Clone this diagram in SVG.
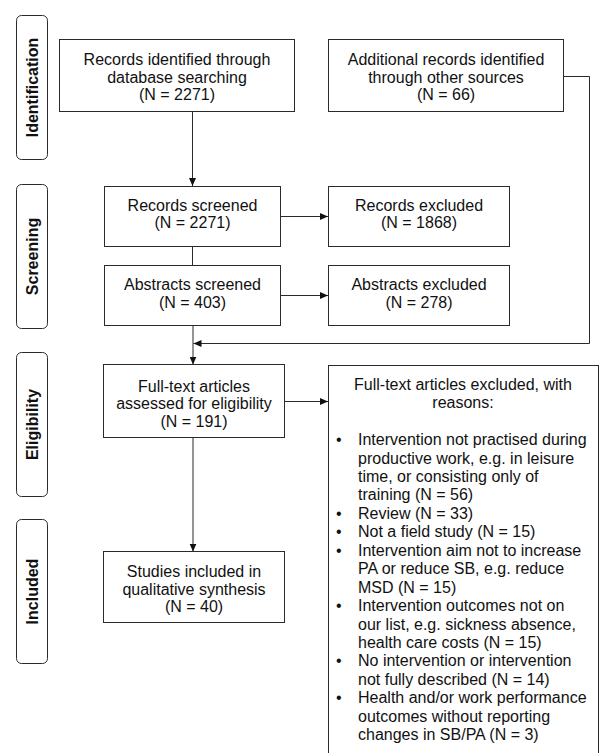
<svg xmlns="http://www.w3.org/2000/svg" width="599" height="753" viewBox="0 0 599 753">
<defs>
<marker id="arr" markerUnits="userSpaceOnUse" markerWidth="9" markerHeight="8" refX="8" refY="4" orient="auto">
<path d="M0,0.5 L8,4 L0,7.5 Z" fill="#111"/>
</marker>
<style>
.box{fill:#fff;stroke:#2b2b2b;stroke-width:1}
.lab{fill:#fff;stroke:#2b2b2b;stroke-width:1}
.t{font-family:"Liberation Sans",Arial,sans-serif;font-size:16px;fill:#111;text-anchor:middle}
.l{font-family:"Liberation Sans",Arial,sans-serif;font-size:16px;fill:#111}
.b{font-family:"Liberation Sans",Arial,sans-serif;font-size:16px;font-weight:bold;fill:#111;text-anchor:middle}
.c{fill:none;stroke:#2b2b2b;stroke-width:1}
</style>
</defs>
<rect width="599" height="753" fill="#fff"/>
<g id="phase-identification"><rect class="lab" x="16.5" y="15.5" width="31" height="144" rx="5"/><text class="b" transform="translate(37.5,87.5) rotate(-90)">Identification</text></g>
<g id="phase-screening"><rect class="lab" x="16.5" y="184.5" width="31" height="144" rx="5"/><text class="b" transform="translate(37.5,256.5) rotate(-90)">Screening</text></g>
<g id="phase-eligibility"><rect class="lab" x="16.5" y="352.5" width="31" height="144" rx="5"/><text class="b" transform="translate(37.5,424.5) rotate(-90)">Eligibility</text></g>
<g id="phase-included"><rect class="lab" x="16.5" y="519.5" width="31" height="144" rx="5"/><text class="b" transform="translate(37.5,591.5) rotate(-90)">Included</text></g>

<g id="connectors">
<line class="c" x1="192.5" y1="111.5" x2="192.5" y2="186" marker-end="url(#arr)"/>
<line class="c" x1="192.5" y1="246.5" x2="192.5" y2="265.5"/>
<line class="c" x1="280.5" y1="216.5" x2="328" y2="216.5" marker-end="url(#arr)"/>
<line class="c" x1="280.5" y1="295.5" x2="328" y2="295.5" marker-end="url(#arr)"/>
<line class="c" x1="193" y1="325.5" x2="193" y2="364.5" marker-end="url(#arr)"/>
<polyline class="c" points="563.5,76.5 589.5,76.5 589.5,343.5 193.5,343.5" marker-end="url(#arr)"/>
<line class="c" x1="284.5" y1="401.5" x2="328" y2="401.5" marker-end="url(#arr)"/>
<line class="c" x1="193" y1="437.5" x2="193" y2="551.5" marker-end="url(#arr)"/>
</g>

<g id="db-records"><rect class="box" x="59.5" y="39.5" width="235" height="72"/>
<text class="t" x="177" y="65">Records identified through</text>
<text class="t" x="177" y="82.5">database searching</text>
<text class="t" x="177" y="100">(N = 2271)</text></g>

<g id="other-records"><rect class="box" x="328.5" y="39.5" width="235" height="72"/>
<text class="t" x="446" y="65">Additional records identified</text>
<text class="t" x="446" y="82.5">through other sources</text>
<text class="t" x="446" y="100">(N = 66)</text></g>

<g id="records-screened"><rect class="box" x="104.5" y="186.5" width="176" height="60"/>
<text class="t" x="192.5" y="210.5">Records screened</text>
<text class="t" x="192.5" y="228">(N = 2271)</text></g>

<g id="records-excluded"><rect class="box" x="328.5" y="186.5" width="181" height="60"/>
<text class="t" x="419" y="210.5">Records excluded</text>
<text class="t" x="419" y="228">(N = 1868)</text></g>

<g id="abstracts-screened"><rect class="box" x="104.5" y="265.5" width="176" height="60"/>
<text class="t" x="192.5" y="290">Abstracts screened</text>
<text class="t" x="192.5" y="307.5">(N = 403)</text></g>

<g id="abstracts-excluded"><rect class="box" x="328.5" y="265.5" width="181" height="60"/>
<text class="t" x="419" y="290">Abstracts excluded</text>
<text class="t" x="419" y="307.5">(N = 278)</text></g>

<g id="fulltext-assessed"><rect class="box" x="103.5" y="364.5" width="181" height="73"/>
<text class="t" x="194" y="391.5">Full-text articles</text>
<text class="t" x="194" y="409">assessed for eligibility</text>
<text class="t" x="194" y="426.5">(N = 191)</text></g>

<g id="studies-included"><rect class="box" x="103.5" y="551.5" width="181" height="71"/>
<text class="t" x="194" y="577">Studies included in</text>
<text class="t" x="194" y="594.5">qualitative synthesis</text>
<text class="t" x="194" y="612">(N = 40)</text></g>

<g id="fulltext-excluded"><rect class="box" x="328.5" y="365.5" width="270" height="400"/>
<text class="t" x="463" y="389.7">Full-text articles excluded, with</text>
<text class="t" x="463" y="408.1">reasons:</text>
<text class="l" x="336" y="445">•</text><text class="l" x="358" y="445">Intervention not practised during</text>
<text class="l" x="358" y="463.5">productive work, e.g. in leisure</text>
<text class="l" x="358" y="481.9">time, or consisting only of</text>
<text class="l" x="358" y="500.4">training (N = 56)</text>
<text class="l" x="336" y="518.8">•</text><text class="l" x="358" y="518.8">Review (N = 33)</text>
<text class="l" x="336" y="537.3">•</text><text class="l" x="358" y="537.3">Not a field study (N = 15)</text>
<text class="l" x="336" y="555.7">•</text><text class="l" x="358" y="555.7">Intervention aim not to increase</text>
<text class="l" x="358" y="574.2">PA or reduce SB, e.g. reduce</text>
<text class="l" x="358" y="592.6">MSD (N = 15)</text>
<text class="l" x="336" y="611.1">•</text><text class="l" x="358" y="611.1">Intervention outcomes not on</text>
<text class="l" x="358" y="629.5">our list, e.g. sickness absence,</text>
<text class="l" x="358" y="648">health care costs (N = 15)</text>
<text class="l" x="336" y="666.4">•</text><text class="l" x="358" y="666.4">No intervention or intervention</text>
<text class="l" x="358" y="684.9">not fully described (N = 14)</text>
<text class="l" x="336" y="703.3">•</text><text class="l" x="358" y="703.3">Health and/or work performance</text>
<text class="l" x="358" y="721.8">outcomes without reporting</text>
<text class="l" x="358" y="740.2">changes in SB/PA (N = 3)</text></g>
</svg>
